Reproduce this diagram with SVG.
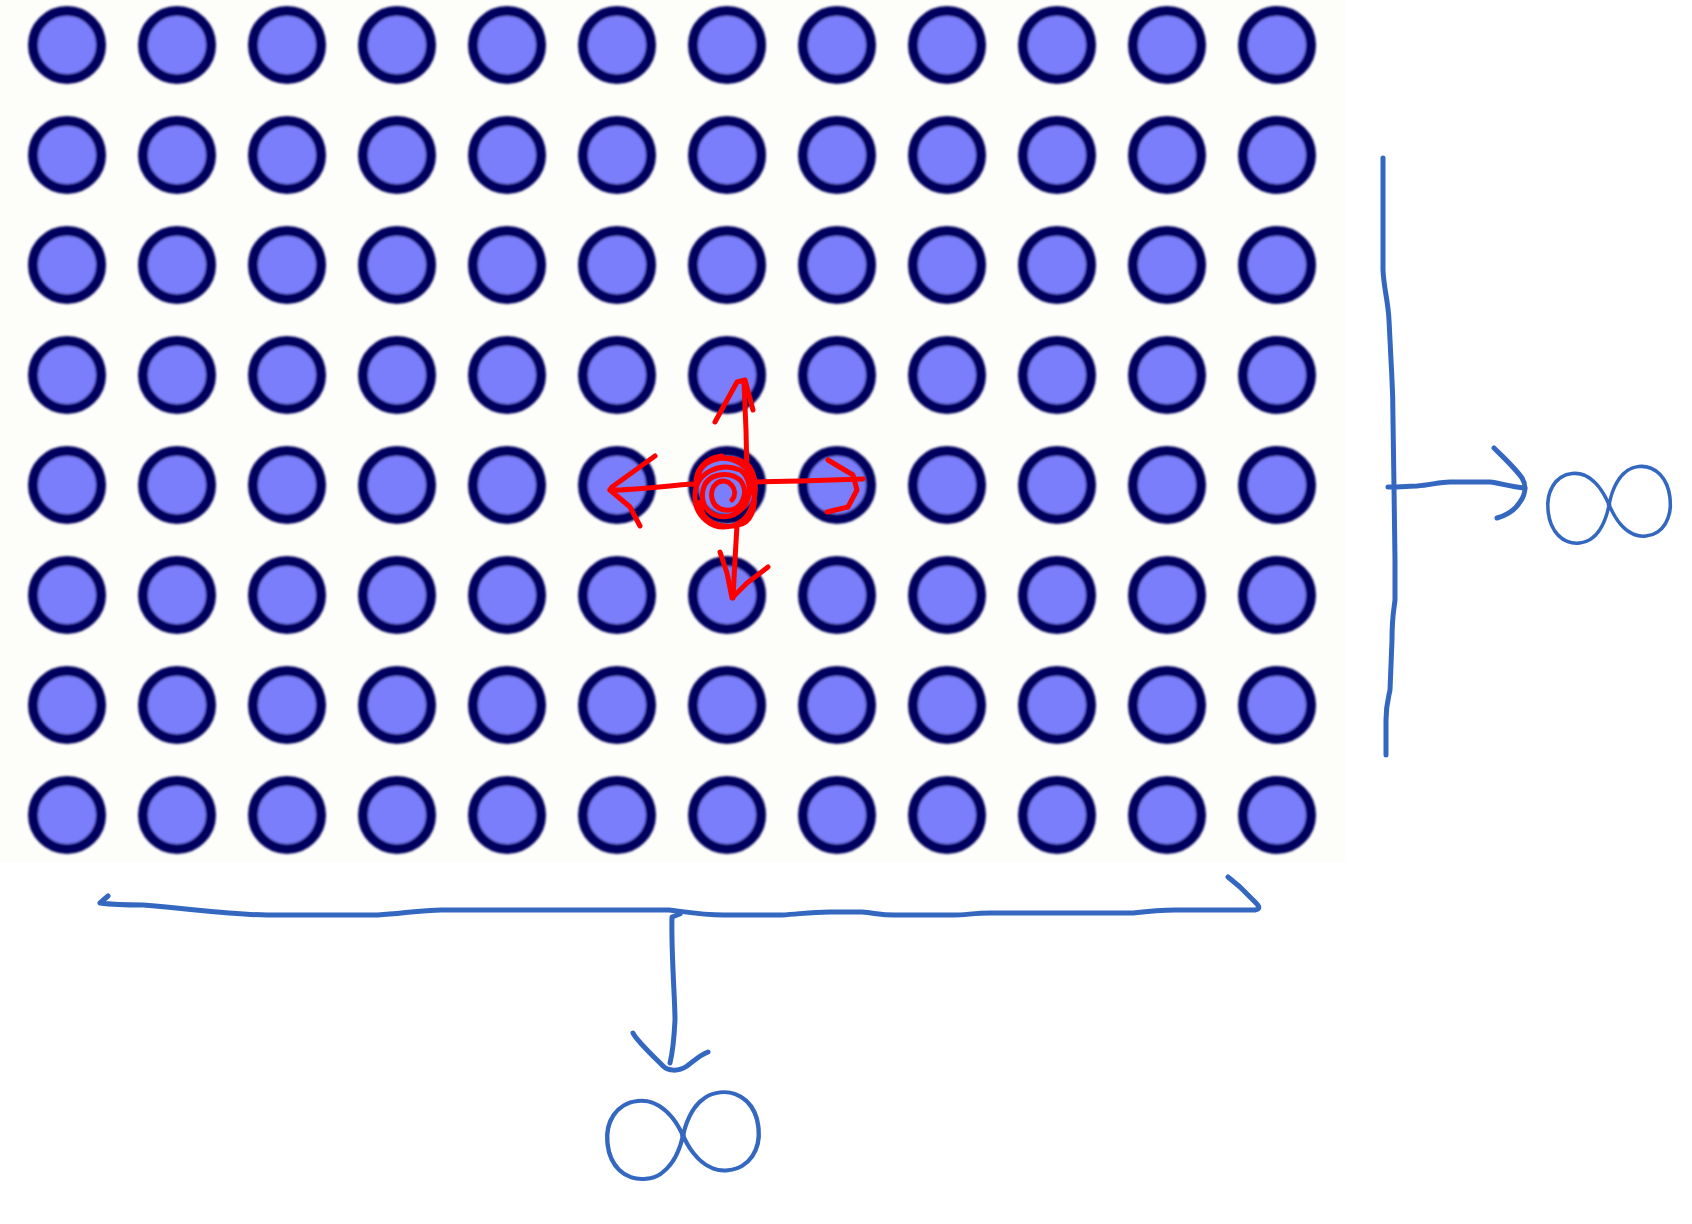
<svg xmlns="http://www.w3.org/2000/svg" width="1692" height="1224" viewBox="0 0 1692 1224">
<style>
.dot{fill:#7a7efb;stroke:#00005e;stroke-width:10}
.blue{fill:none;stroke:#3468c0;stroke-width:5;stroke-linecap:round;stroke-linejoin:round}
.red{fill:none;stroke:#ff0000;stroke-width:5;stroke-linecap:round;stroke-linejoin:round}
.inf{fill:#3468c0;font-family:Roboto,"DejaVu Sans",sans-serif;font-weight:100}
</style>
<defs>
<filter id="soft" x="-5%" y="-5%" width="110%" height="110%"><feGaussianBlur stdDeviation="0.9"/></filter>
</defs>
<rect width="1692" height="1224" fill="#ffffff"/>
<rect x="0" y="0" width="1345" height="862" fill="#fdfdfa"/>
<g id="lattice" filter="url(#soft)">
<g id="row0"><circle class="dot" r="34" cx="67" cy="45"/><circle class="dot" r="34" cx="177" cy="45"/><circle class="dot" r="34" cx="287" cy="45"/><circle class="dot" r="34" cx="397" cy="45"/><circle class="dot" r="34" cx="507" cy="45"/><circle class="dot" r="34" cx="617" cy="45"/><circle class="dot" r="34" cx="727" cy="45"/><circle class="dot" r="34" cx="837" cy="45"/><circle class="dot" r="34" cx="947" cy="45"/><circle class="dot" r="34" cx="1057" cy="45"/><circle class="dot" r="34" cx="1167" cy="45"/><circle class="dot" r="34" cx="1277" cy="45"/></g>
<g id="row1"><circle class="dot" r="34" cx="67" cy="155"/><circle class="dot" r="34" cx="177" cy="155"/><circle class="dot" r="34" cx="287" cy="155"/><circle class="dot" r="34" cx="397" cy="155"/><circle class="dot" r="34" cx="507" cy="155"/><circle class="dot" r="34" cx="617" cy="155"/><circle class="dot" r="34" cx="727" cy="155"/><circle class="dot" r="34" cx="837" cy="155"/><circle class="dot" r="34" cx="947" cy="155"/><circle class="dot" r="34" cx="1057" cy="155"/><circle class="dot" r="34" cx="1167" cy="155"/><circle class="dot" r="34" cx="1277" cy="155"/></g>
<g id="row2"><circle class="dot" r="34" cx="67" cy="265"/><circle class="dot" r="34" cx="177" cy="265"/><circle class="dot" r="34" cx="287" cy="265"/><circle class="dot" r="34" cx="397" cy="265"/><circle class="dot" r="34" cx="507" cy="265"/><circle class="dot" r="34" cx="617" cy="265"/><circle class="dot" r="34" cx="727" cy="265"/><circle class="dot" r="34" cx="837" cy="265"/><circle class="dot" r="34" cx="947" cy="265"/><circle class="dot" r="34" cx="1057" cy="265"/><circle class="dot" r="34" cx="1167" cy="265"/><circle class="dot" r="34" cx="1277" cy="265"/></g>
<g id="row3"><circle class="dot" r="34" cx="67" cy="375"/><circle class="dot" r="34" cx="177" cy="375"/><circle class="dot" r="34" cx="287" cy="375"/><circle class="dot" r="34" cx="397" cy="375"/><circle class="dot" r="34" cx="507" cy="375"/><circle class="dot" r="34" cx="617" cy="375"/><circle class="dot" r="34" cx="727" cy="375"/><circle class="dot" r="34" cx="837" cy="375"/><circle class="dot" r="34" cx="947" cy="375"/><circle class="dot" r="34" cx="1057" cy="375"/><circle class="dot" r="34" cx="1167" cy="375"/><circle class="dot" r="34" cx="1277" cy="375"/></g>
<g id="row4"><circle class="dot" r="34" cx="67" cy="485"/><circle class="dot" r="34" cx="177" cy="485"/><circle class="dot" r="34" cx="287" cy="485"/><circle class="dot" r="34" cx="397" cy="485"/><circle class="dot" r="34" cx="507" cy="485"/><circle class="dot" r="34" cx="617" cy="485"/><circle class="dot" r="34" cx="727" cy="485"/><circle class="dot" r="34" cx="837" cy="485"/><circle class="dot" r="34" cx="947" cy="485"/><circle class="dot" r="34" cx="1057" cy="485"/><circle class="dot" r="34" cx="1167" cy="485"/><circle class="dot" r="34" cx="1277" cy="485"/></g>
<g id="row5"><circle class="dot" r="34" cx="67" cy="595"/><circle class="dot" r="34" cx="177" cy="595"/><circle class="dot" r="34" cx="287" cy="595"/><circle class="dot" r="34" cx="397" cy="595"/><circle class="dot" r="34" cx="507" cy="595"/><circle class="dot" r="34" cx="617" cy="595"/><circle class="dot" r="34" cx="727" cy="595"/><circle class="dot" r="34" cx="837" cy="595"/><circle class="dot" r="34" cx="947" cy="595"/><circle class="dot" r="34" cx="1057" cy="595"/><circle class="dot" r="34" cx="1167" cy="595"/><circle class="dot" r="34" cx="1277" cy="595"/></g>
<g id="row6"><circle class="dot" r="34" cx="67" cy="705"/><circle class="dot" r="34" cx="177" cy="705"/><circle class="dot" r="34" cx="287" cy="705"/><circle class="dot" r="34" cx="397" cy="705"/><circle class="dot" r="34" cx="507" cy="705"/><circle class="dot" r="34" cx="617" cy="705"/><circle class="dot" r="34" cx="727" cy="705"/><circle class="dot" r="34" cx="837" cy="705"/><circle class="dot" r="34" cx="947" cy="705"/><circle class="dot" r="34" cx="1057" cy="705"/><circle class="dot" r="34" cx="1167" cy="705"/><circle class="dot" r="34" cx="1277" cy="705"/></g>
<g id="row7"><circle class="dot" r="34" cx="67" cy="815"/><circle class="dot" r="34" cx="177" cy="815"/><circle class="dot" r="34" cx="287" cy="815"/><circle class="dot" r="34" cx="397" cy="815"/><circle class="dot" r="34" cx="507" cy="815"/><circle class="dot" r="34" cx="617" cy="815"/><circle class="dot" r="34" cx="727" cy="815"/><circle class="dot" r="34" cx="837" cy="815"/><circle class="dot" r="34" cx="947" cy="815"/><circle class="dot" r="34" cx="1057" cy="815"/><circle class="dot" r="34" cx="1167" cy="815"/><circle class="dot" r="34" cx="1277" cy="815"/></g>
</g>
<g id="connectors">
<g id="neighbours" class="red">
<path d="M698,478 C700,458 730,452 748,465 C760,478 758,515 735,525 C712,533 694,515 695,495 C696,472 720,462 740,470 C755,480 752,510 730,516 C710,520 700,505 703,490 C706,474 728,470 740,480 C750,492 742,512 725,510 C710,508 708,490 717,483 C728,476 740,490 732,500 M700,502 C700,522 722,531 742,524 C754,519 757,500 752,486 M710,460 C732,454 756,466 753,492 M696,488 C694,470 705,458 722,456"/>
<path d="M747,476 L746,430 L744,383"/>
<path d="M715,422 L737,382 L745,380 L753,410"/>
<path d="M695,484 C670,485 640,490 610,490"/>
<path d="M655,456 L612,487 L610,490 L630,507 L640,526"/>
<path d="M752,482 L800,481 L863,479"/>
<path d="M828,460 L853,475 L857,490 L848,507 L827,512"/>
<path d="M737,525 L735,560 L733,598"/>
<path d="M720,552 L727,573 L732,598 L747,583 L768,567"/>
</g>
<g id="bottom-bracket" class="blue">
<path d="M108,896 L100,903 C115,905 130,905 143,905 C200,910 240,915 267,915 L378,915 C400,914 420,910 442,910 L669,910 C680,911 700,915 724,915 L782,915 C800,914 810,912 830,912 L862,912 C875,913 880,915 895,915 L954,915 C965,915 975,913 990,913 L1133,913 C1150,911 1160,910 1175,910 L1255,910 Q1262,909 1256,903 L1240,887 L1228,877"/>
<path d="M680,914 L672,917 C671,950 675,1000 675,1020 C674,1040 672,1055 670,1063"/>
<path d="M633,1033 C636,1040 655,1058 663,1066 C668,1071 678,1072 687,1066 C695,1060 700,1055 708,1052"/>
</g>
<g id="right-bracket" class="blue">
<path d="M1383,158 L1383,270 C1384,290 1388,300 1389,320 L1391,360 C1392,380 1393,390 1393,420 L1394,487 L1395,560 L1395,600 C1394,610 1392,615 1392,640 L1390,690 C1388,700 1386,705 1386,720 L1386,755"/>
<path d="M1388,487 C1400,487 1410,486 1417,486 C1430,485 1440,482 1450,482 L1490,482 C1500,483 1510,487 1525,488"/>
<path d="M1494,448 C1502,456 1515,468 1522,478 C1527,486 1525,495 1520,502 C1515,510 1508,515 1497,518"/>
</g>
</g>
<g id="label-right">
<text class="inf" x="1689" y="532" font-size="134" text-anchor="end" transform="rotate(-6 1689 565)">∞</text>
</g>
<g id="label-bottom">
<text class="inf" x="602" y="1184" font-size="150" textLength="180" lengthAdjust="spacingAndGlyphs" transform="rotate(-6 602 1221)">∞</text>
</g>
</svg>
